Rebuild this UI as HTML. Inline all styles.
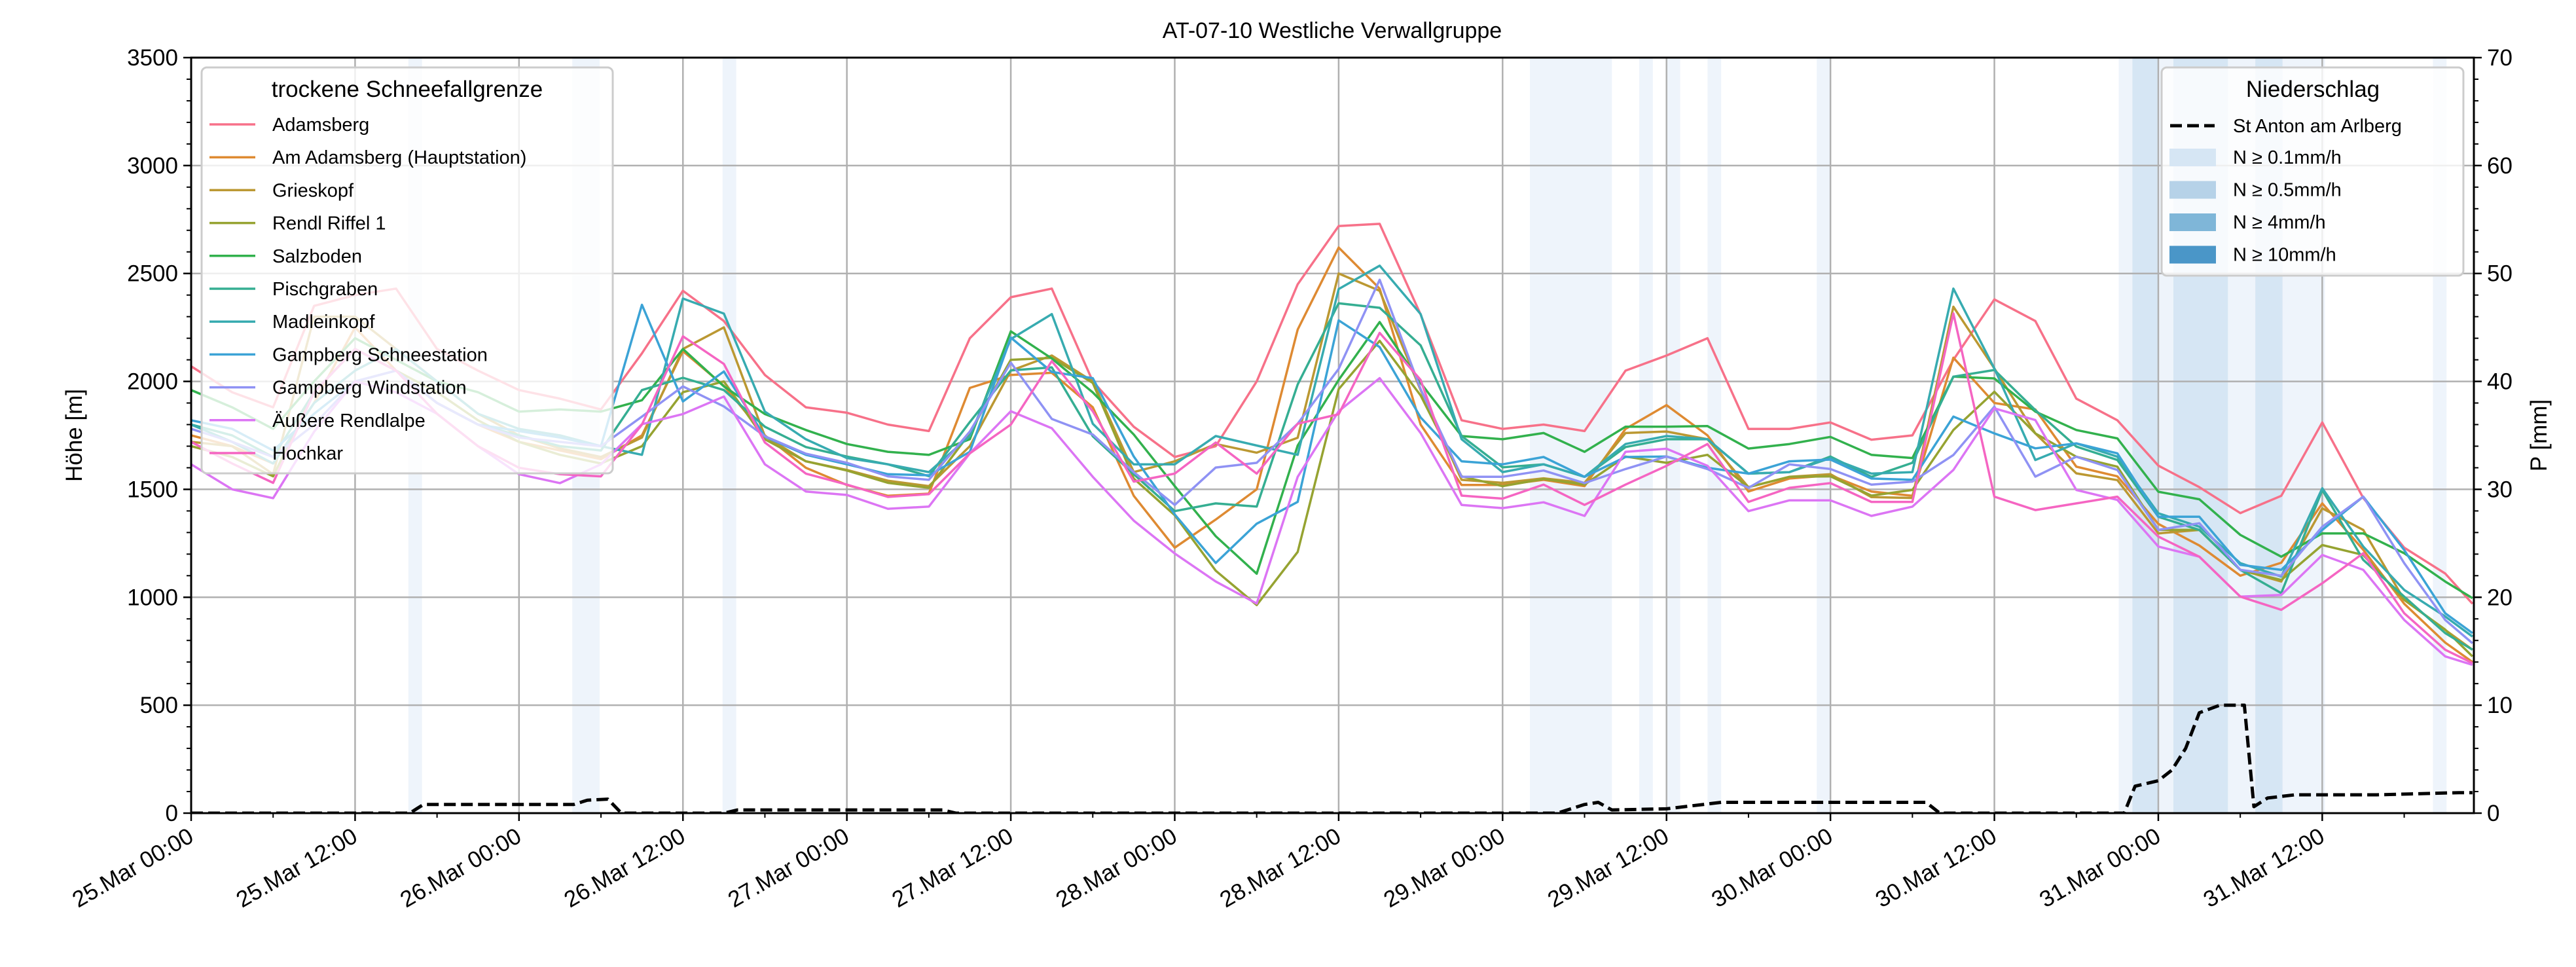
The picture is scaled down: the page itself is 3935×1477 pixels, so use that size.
<!DOCTYPE html>
<html><head><meta charset="utf-8">
<style>
html,body{margin:0;padding:0;background:#fff;}
svg{display:block;font-family:"Liberation Sans","DejaVu Sans",sans-serif;}
</style></head>
<body>
<svg id="chart" xmlns="http://www.w3.org/2000/svg" width="3935" height="1477" viewBox="0 0 3935 1477">
<defs><clipPath id="plotclip"><rect x="292" y="88" width="3487" height="1154"/></clipPath></defs>
<rect x="0" y="0" width="3935" height="1477" fill="#fff"/>
<g id="bands" clip-path="url(#plotclip)"></g>
<g id="grid"></g>
<g id="series" clip-path="url(#plotclip)"></g>
<g id="precip" clip-path="url(#plotclip)"></g>
<g id="axes"></g>
<g id="legends"></g>
<text x="2035" y="58" font-size="34" text-anchor="middle">AT-07-10 Westliche Verwallgruppe</text>
<text x="0" y="0" font-size="35" text-anchor="middle" transform="translate(125,665) rotate(-90)">Höhe [m]</text>
<text x="0" y="0" font-size="35" text-anchor="middle" transform="translate(3890,665) rotate(-90)">P [mm]</text>
</svg>
<script>
const hours = [0,3,6,9,12,15,18,21,24,27,30,33,36,39,42,45,48,51,54,57,60,63,66,69,72,75,78,81,84,87,90,93,96,99,102,105,108,111,114,117,120,123,126,129,132,135,138,141,144,147,150,153,156,159,162,165,167];
const seriesNames = ["Adamsberg","Am Adamsberg (Hauptstation)","Grieskopf","Rendl Riffel 1","Salzboden","Pischgraben","Madleinkopf","Gampberg Schneestation","Gampberg Windstation","Äußere Rendlalpe","Hochkar"];
const adamsberg = [2070,1950,1880,2350,2400,2430,2150,2050,1960,1920,1870,2130,2420,2280,2030,1880,1855,1800,1770,2200,2390,2430,2000,1790,1650,1700,2000,2450,2720,2730,2310,1820,1780,1800,1770,2050,2120,2200,1780,1780,1810,1730,1750,2100,2380,2280,1920,1820,1610,1510,1390,1470,1810,1460,1230,1110,970];
const amAdamsberg = [1750,1700,1620,1900,2250,2050,1900,1800,1720,1680,1640,1750,2140,1980,1750,1600,1520,1470,1480,1970,2030,2040,1880,1470,1230,1360,1500,2240,2620,2430,1800,1520,1520,1544,1515,1780,1890,1750,1490,1550,1565,1490,1470,2110,1900,1870,1605,1560,1340,1240,1100,1160,1435,1220,970,790,700];
const grieskopf = [1720,1700,1570,2300,2300,2150,2000,1850,1750,1690,1650,1740,2150,2250,1746,1630,1590,1540,1515,1700,2050,2120,2000,1580,1630,1710,1670,1739,2500,2420,1960,1544,1530,1551,1530,1761,1768,1732,1510,1558,1570,1464,1460,2346,2060,1759,1574,1543,1296,1312,1127,1073,1412,1312,988,849,757];
const rendlRiffel = [1700,1650,1560,1950,2150,2050,1950,1820,1720,1660,1620,1700,1950,2000,1732,1630,1587,1530,1507,1761,2100,2109,1993,1550,1380,1123,964,1210,1964,2188,1935,1560,1515,1548,1522,1652,1623,1660,1510,1558,1560,1471,1497,1775,1952,1759,1651,1605,1312,1312,1127,1080,1242,1196,988,850,726];
const salzboden = [1960,1880,1780,2000,2200,2100,2000,1950,1860,1870,1860,1913,2150,1977,1849,1775,1710,1674,1660,1732,2232,2106,1949,1754,1515,1283,1109,1703,2007,2275,1993,1747,1732,1761,1674,1790,1790,1793,1689,1710,1743,1660,1645,2022,2014,1860,1775,1736,1489,1454,1289,1188,1296,1296,1204,1073,996];
const pischgraben = [1800,1750,1650,1950,2150,2050,1900,1800,1750,1700,1680,1960,2017,1960,1790,1696,1652,1616,1561,1812,2051,2065,1746,1570,1399,1435,1420,1986,2362,2341,2167,1747,1602,1616,1558,1696,1732,1732,1573,1580,1652,1558,1623,2022,2053,1867,1698,1636,1373,1312,1127,1019,1497,1173,1003,834,757];
const madleinkopf = [1800,1720,1620,1900,2050,2150,2000,1850,1780,1750,1700,1660,2384,2314,1860,1732,1645,1616,1580,1747,2196,2312,1804,1616,1616,1747,1703,1660,2428,2536,2312,1732,1580,1616,1558,1710,1747,1732,1573,1580,1645,1573,1580,2430,2060,1636,1713,1651,1389,1327,1158,1096,1505,1235,1034,911,818];
const gampbergSchnee = [1820,1780,1680,1850,2000,2050,1900,1800,1770,1740,1700,2355,1907,2046,1744,1660,1616,1570,1565,1674,2203,2044,2015,1652,1384,1159,1341,1442,2283,2159,1833,1630,1616,1650,1558,1650,1652,1600,1573,1630,1638,1550,1544,1837,1759,1690,1713,1667,1373,1373,1150,1127,1312,1466,1219,926,834];
const gampbergWind = [1780,1720,1650,1800,2000,2050,1900,1800,1740,1720,1700,1837,1977,1884,1746,1665,1623,1560,1544,1768,2087,1826,1754,1580,1428,1601,1623,1804,2058,2471,1964,1558,1558,1587,1529,1594,1652,1594,1507,1616,1594,1522,1536,1659,1883,1559,1651,1590,1312,1343,1127,1100,1327,1466,1158,895,787];
const aeussereRendlalpe = [1616,1500,1459,1767,2000,1950,1850,1700,1570,1529,1616,1802,1849,1930,1616,1490,1474,1410,1420,1667,1862,1783,1558,1355,1203,1073,971,1558,1862,2015,1761,1428,1413,1440,1377,1674,1688,1609,1399,1449,1449,1377,1420,1590,1875,1821,1497,1451,1235,1188,1003,1011,1196,1127,895,726,687];
const hochkar = [1720,1620,1530,1950,2150,2050,1850,1700,1600,1570,1560,1800,2209,2081,1717,1573,1522,1465,1478,1667,1800,2094,1862,1536,1573,1717,1573,1804,1848,2225,2007,1471,1457,1522,1428,1522,1609,1710,1442,1507,1529,1442,1442,2315,1466,1404,1435,1466,1281,1188,1003,942,1065,1204,926,757,695];
const seriesValues = [adamsberg,amAdamsberg,grieskopf,rendlRiffel,salzboden,pischgraben,madleinkopf,gampbergSchnee,gampbergWind,aeussereRendlalpe,hochkar];
const seriesColors = ["#f77189","#de8a32","#bb9832","#96a331","#32b14d","#35ae92","#37abb0","#3ba3d6","#8f92f4","#dc75f4","#f565c2"];
const precipHours = [0,16,17,28,29,30.5,31.5,39,40,55,56,100,102,103,104,108,112,127,128,141.5,142.3,144,145,146,147,148.5,150.3,151,152,154,160,166,167];
const precipValues = [0,0,0.8,0.8,1.2,1.3,0,0,0.3,0.3,0,0,0.8,1.0,0.3,0.4,1.0,1.0,0,0,2.5,3.0,4.0,6.0,9.3,10.0,10.0,0.6,1.4,1.7,1.7,1.9,1.9];
const bandStart = [15.9,27.9,38.9,98,106,108,111,119,141.1,142.1,144,145.1,149.1,151.1,153.1,164.1];
const bandEnd   = [16.9,29.9,39.9,104,107,109,112,120,142.1,144,145.1,149.1,151.1,153.1,156.2,165.1];
const bandLevel = [1,1,1,1,1,1,1,1,1,2,1,2,1,2,1,1];
const yTicks = [0,500,1000,1500,2000,2500,3000,3500];
const y2Ticks = [0,10,20,30,40,50,60,70];
const xTickHours = [0,12,24,36,48,60,72,84,96,108,120,132,144,156];
const xTickLabels = ["25.Mar 00:00","25.Mar 12:00","26.Mar 00:00","26.Mar 12:00","27.Mar 00:00","27.Mar 12:00","28.Mar 00:00","28.Mar 12:00","29.Mar 00:00","29.Mar 12:00","30.Mar 00:00","30.Mar 12:00","31.Mar 00:00","31.Mar 12:00"];

const NS = "http://www.w3.org/2000/svg";
const L = 292, R = 3779, T = 88, B = 1242;
const XMAX = 167.1;
const x = h => L + (h / XMAX) * (R - L);
const y = v => B - (v / 3500) * (B - T);
const y2 = p => B - (p / 70) * (B - T);
function mk(tag, attrs, parent) {
  const e = document.createElementNS(NS, tag);
  for (const k in attrs) e.setAttribute(k, attrs[k]);
  parent.appendChild(e);
  return e;
}
const bands = document.getElementById('bands');
const bandColors = {1: "#eef4fb", 2: "#d6e6f4"};
for (let i = 0; i < bandStart.length; i++) {
  const r = mk('rect', {x: x(bandStart[i]), y: T, width: x(bandEnd[i]) - x(bandStart[i]), height: B - T, fill: bandColors[bandLevel[i]]}, bands);
  
  
}
const grid = document.getElementById('grid');
for (const t of yTicks) {
  const g = mk('line', {x1: L, x2: R, y1: y(t), y2: y(t), stroke: "#b0b0b0", "stroke-width": 2.5}, grid);
  
  
}
for (const h of xTickHours) {
  const g = mk('line', {x1: x(h), x2: x(h), y1: T, y2: B, stroke: "#b0b0b0", "stroke-width": 2.5}, grid);
  
  
}
const sg = document.getElementById('series');
for (let s = 0; s < seriesValues.length; s++) {
  const pts = seriesValues[s].map((v, i) => x(hours[i]).toFixed(1) + ',' + y(v).toFixed(1)).join(' ');
  const pl = mk('polyline', {points: pts, fill: "none", stroke: seriesColors[s], "stroke-width": 3.5, "stroke-linejoin": "round"}, sg);
  
  
}
const pg = document.getElementById('precip');
const ppts = precipValues.map((v, i) => x(precipHours[i]).toFixed(1) + ',' + y2(v).toFixed(1)).join(' ');
const pline = mk('polyline', {points: ppts, fill: "none", stroke: "#000", "stroke-width": 5, "stroke-dasharray": "18,8", "stroke-linejoin": "round"}, pg);



const ax = document.getElementById('axes');
const frame = mk('rect', {x: L, y: T, width: R - L, height: B - T, fill: "none", stroke: "#000", "stroke-width": 3}, ax);


for (const t of yTicks) {
  mk('line', {x1: L - 12, x2: L, y1: y(t), y2: y(t), stroke: "#000", "stroke-width": 2.5}, ax);
  const tx = mk('text', {x: L - 20, y: y(t) + 12, "font-size": 35, "text-anchor": "end"}, ax);
  tx.textContent = t;
  
  
}
for (let v = 100; v < 3500; v += 100) {
  if (v % 500) mk('line', {x1: L - 7, x2: L, y1: y(v), y2: y(v), stroke: "#000", "stroke-width": 2}, ax);
}
for (const t of y2Ticks) {
  mk('line', {x1: R, x2: R + 12, y1: y2(t), y2: y2(t), stroke: "#000", "stroke-width": 2.5}, ax);
  const tx = mk('text', {x: R + 20, y: y2(t) + 12, "font-size": 35, "text-anchor": "start"}, ax);
  tx.textContent = t;
  
  
}
for (let p = 2; p < 70; p += 2) {
  if (p % 10) mk('line', {x1: R, x2: R + 7, y1: y2(p), y2: y2(p), stroke: "#000", "stroke-width": 2}, ax);
}
for (let i = 0; i < xTickHours.length; i++) {
  const h = xTickHours[i];
  mk('line', {x1: x(h), x2: x(h), y1: B, y2: B + 12, stroke: "#000", "stroke-width": 2.5}, ax);
  const tx = mk('text', {x: 0, y: 0, "font-size": 35, "text-anchor": "end", transform: `translate(${x(h) + 6},${B + 42}) rotate(-30)`}, ax);
  tx.textContent = xTickLabels[i];
  
  
}
for (let h = 6; h < XMAX; h += 12) {
  mk('line', {x1: x(h), x2: x(h), y1: B, y2: B + 7, stroke: "#000", "stroke-width": 2}, ax);
}

const lg = document.getElementById('legends');
const leg1 = mk('g', {}, lg);


mk('rect', {x: 308, y: 103, width: 628, height: 620, rx: 8, fill: "rgba(255,255,255,0.8)", stroke: "#cccccc", "stroke-width": 3}, leg1);
const lt1 = mk('text', {x: 622, y: 148, "font-size": 35, "text-anchor": "middle"}, leg1);
lt1.textContent = "trockene Schneefallgrenze";
for (let s = 0; s < seriesNames.length; s++) {
  const cy = 190 + s * 50.2;
  const e = mk('g', {}, leg1);
  
  
  mk('line', {x1: 320, x2: 390, y1: cy, y2: cy, stroke: seriesColors[s], "stroke-width": 3.5}, e);
  const t = mk('text', {x: 416, y: cy + 10, "font-size": 29}, e);
  t.textContent = seriesNames[s];
}
const leg2 = mk('g', {}, lg);


mk('rect', {x: 3302, y: 103, width: 461, height: 318, rx: 8, fill: "rgba(255,255,255,0.8)", stroke: "#cccccc", "stroke-width": 3}, leg2);
const lt2 = mk('text', {x: 3533, y: 148, "font-size": 35, "text-anchor": "middle"}, leg2);
lt2.textContent = "Niederschlag";
const e0 = mk('g', {}, leg2);


mk('line', {x1: 3315, x2: 3383, y1: 192, y2: 192, stroke: "#000", "stroke-width": 5, "stroke-dasharray": "18,8"}, e0);
const t0 = mk('text', {x: 3411, y: 202, "font-size": 29}, e0);
t0.textContent = "St Anton am Arlberg";
const patchColors = ["#d6e6f4","#b6d2e8","#7fb6d8","#4a96c8"];
const patchLabels = ["N ≥ 0.1mm/h","N ≥ 0.5mm/h","N ≥ 4mm/h","N ≥ 10mm/h"];
for (let i = 0; i < 4; i++) {
  const cy = 240 + i * 49.5;
  const e = mk('g', {}, leg2);
  
  
  mk('rect', {x: 3314, y: cy - 13, width: 71, height: 27, fill: patchColors[i]}, e);
  const t = mk('text', {x: 3411, y: cy + 10, "font-size": 29}, e);
  t.textContent = patchLabels[i];
}
</script>
</body></html>
